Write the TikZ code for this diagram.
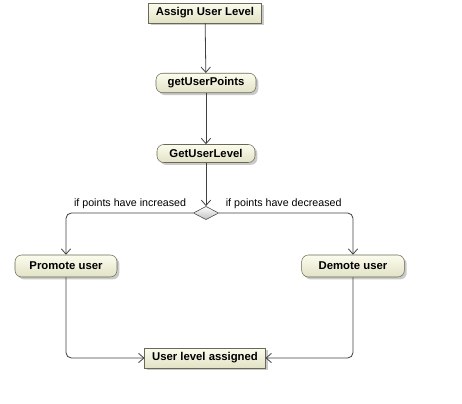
\documentclass[tikz,border=0pt]{standalone}
\usepackage{fontspec}
\setmainfont{Liberation Sans}
\usetikzlibrary{arrows.meta,shapes.geometric,shadows}
\definecolor{nodeline}{RGB}{105,105,85}
\definecolor{nodetop}{RGB}{252,252,238}
\definecolor{nodebot}{RGB}{226,226,198}
\definecolor{flowline}{RGB}{64,64,64}
\begin{document}
\begin{tikzpicture}[x=0.75pt, y=-0.75pt, >={Straight Barb[length=4pt,width=7pt]},
    font=\fontsize{8}{9}\selectfont,
    box/.style={draw=nodeline, top color=nodetop, bottom color=nodebot,
      drop shadow={shadow xshift=1.8pt, shadow yshift=-1.8pt, fill=black!35, opacity=.6},
      font=\fontsize{8.5}{10}\selectfont\bfseries, minimum height=15pt, inner xsep=5.5pt},
    action/.style={box, rounded corners=5pt, minimum width=75pt, minimum height=13.5pt},
    choice/.style={diamond, draw=flowline, top color=white, bottom color=black!25,
      minimum width=19pt, minimum height=10pt, inner sep=0pt},
    flow/.style={->, draw=flowline, line width=0.6pt},
    guard/.style={inner sep=1pt}]
  \useasboundingbox (0,0) rectangle (462,404);
  % --- nodes ---
  \node[box] (assign) at (205,13) {Assign User Level};
  \node[action] (points) at (206,83) {getUserPoints};
  \node[action, minimum width=73.5pt] (level) at (206,153.5) {GetUserLevel};
  \node[choice] (decide) at (206,213) {};
  \node[action, minimum width=76.5pt, minimum height=16.5pt] (promote) at (66,266) {Promote user};
  \node[action, minimum width=77pt, minimum height=16.5pt] (demote) at (353,266) {Demote user};
  \node[box] (assigned) at (205,358) {User level assigned};
  % --- flows ---
  \draw[flow] (assign) -- (points);
  \draw[flow] (points) -- (level);
  \draw[flow] (level) -- (decide);
  \draw[flow, rounded corners=4pt] (decide.west) -| (promote);
  \draw[flow, rounded corners=4pt] (decide.east) -| (demote);
  \draw[flow, rounded corners=4pt] (promote) |- (assigned.west);
  \draw[flow, rounded corners=4pt] (demote) |- (assigned.east);
  % --- guards ---
  \node[guard, anchor=south east] (up) at ([xshift=-4pt,yshift=2pt]decide.west) {if points have increased};
  \node[guard, anchor=south west] (down) at ([xshift=4pt,yshift=2pt]decide.east) {if points have decreased};
\end{tikzpicture}
\end{document}
